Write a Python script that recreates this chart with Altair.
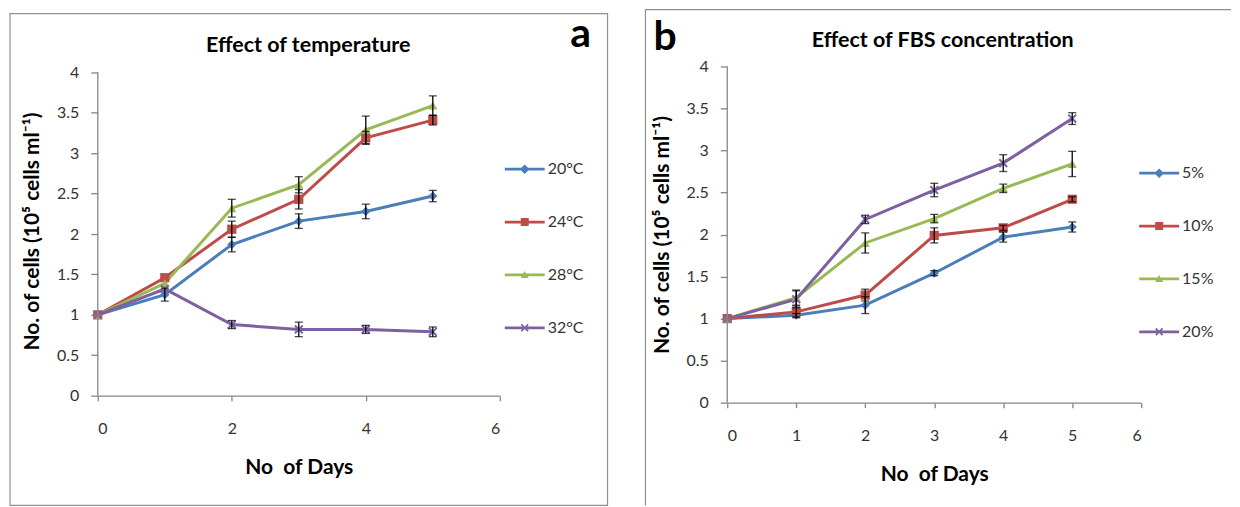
import altair as alt
import pandas as pd

DAYS = [0, 1, 2, 3, 4, 5]

# Panel a: effect of temperature
A_SERIES = ["20°C", "24°C", "28°C", "32°C"]
A_VALUES = [
    [1.0, 1.25, 1.87, 2.16, 2.28, 2.47],
    [1.0, 1.46, 2.06, 2.43, 3.19, 3.41],
    [1.0, 1.39, 2.32, 2.61, 3.29, 3.59],
    [1.0, 1.32, 0.88, 0.82, 0.82, 0.79],
]
A_ERRORS = [
    [0, 0.08, 0.09, 0.09, 0.09, 0.07],
    [0, 0.0, 0.10, 0.12, 0.08, 0.06],
    [0, 0.0, 0.11, 0.10, 0.17, 0.12],
    [0, 0.0, 0.05, 0.09, 0.05, 0.06],
]

# Panel b: effect of FBS concentration
B_SERIES = ["5%", "10%", "15%", "20%"]
B_VALUES = [
    [1.0, 1.04, 1.16, 1.54, 1.97, 2.09],
    [1.0, 1.08, 1.28, 1.99, 2.08, 2.42],
    [1.0, 1.25, 1.90, 2.19, 2.55, 2.84],
    [1.0, 1.23, 2.18, 2.53, 2.85, 3.38],
]
B_ERRORS = [
    [0, 0.02, 0.10, 0.03, 0.06, 0.06],
    [0, 0.07, 0.07, 0.09, 0.03, 0.03],
    [0, 0.09, 0.12, 0.05, 0.05, 0.15],
    [0, 0.10, 0.05, 0.08, 0.10, 0.07],
]

A_TITLE = "Effect of temperature"
B_TITLE = "Effect of FBS concentration"
X_TITLE = "No\u00a0 of Days"
Y_TITLE = "No. of cells (10\u2075 cells ml\u207b\u00b9)"
A_XTICKS = [0, 2, 4, 6]
B_XTICKS = [0, 1, 2, 3, 4, 5, 6]
Y_TICKS = [0, 0.5, 1, 1.5, 2, 2.5, 3, 3.5, 4]

# styles
COLORS = ["#4A7EBB", "#BE4B48", "#98B954", "#7D60A0"]
XPATH = ("M-1,-0.7L-0.7,-1L0,-0.3L0.7,-1L1,-0.7L0.3,0L1,0.7L0.7,1L0,0.3"
         "L-0.7,1L-1,0.7L-0.3,0Z")
MARKERS = ["diamond", "square", "triangle-up", XPATH]
LINE = "M-1,-0.07H1V0.07H-1Z "
LEGEND_PATHS = [
    LINE + "M0,-0.24L0.24,0L0,0.24L-0.24,0Z",
    LINE + "M-0.2,-0.2H0.2V0.2H-0.2Z",
    LINE + "M0,-0.2L0.2,0.15L-0.2,0.15Z",
    LINE + "M-0.2,-0.14L-0.14,-0.2L0,-0.06L0.14,-0.2L0.2,-0.14L0.06,0L0.2,0.14"
           "L0.14,0.2L0,0.06L-0.14,0.2L-0.2,0.14L-0.06,0Z",
]
FONT = "Lato"
AXIS_GRAY = "#868686"


def build(series, values, errors):
    rows = []
    for i, (s, vals, errs) in enumerate(zip(series, values, errors)):
        for d, v, e in zip(DAYS, vals, errs):
            rows.append({"day": d, "value": v, "err": e, "series": s,
                         "col": COLORS[i], "mk": MARKERS[i]})
    df = pd.DataFrame(rows)
    df["lo"] = df["value"] - df["err"]
    df["hi"] = df["value"] + df["err"]
    return df


def panel(df, series, title, letter, w, h, ytop, xticks, frame, title_pos,
          letter_pos, legend_pos):
    one = pd.DataFrame({"t": [title]})
    xs = alt.Scale(domain=[0, 6], nice=False)
    ys = alt.Scale(domain=[0, ytop], nice=False)
    xaxis = alt.Axis(values=xticks, title=X_TITLE, tickSize=5, labelPadding=20,
                     titlePadding=20, format="d")
    yaxis = alt.Axis(values=Y_TICKS, title=Y_TITLE, tickSize=7, labelPadding=12,
                     titlePadding=14, format="~g", domain=False)
    x = alt.X("day:Q", scale=xs, axis=xaxis)
    base = alt.Chart(df)

    fx1, fx2, fy1, fy2, full = frame
    if full:
        fr = alt.Chart(one).mark_rect(fill="transparent", stroke="#8f8f8f",
                                      strokeWidth=1.2).encode(
            x=alt.value(fx1), x2=alt.value(fx2), y=alt.value(fy1), y2=alt.value(fy2))
    else:
        fr = (alt.Chart(one).mark_rule(color="#8f8f8f", strokeWidth=1.2).encode(
                x=alt.value(fx1), y=alt.value(fy1), y2=alt.value(fy2))
              + alt.Chart(one).mark_rule(color="#8f8f8f", strokeWidth=1.2).encode(
                x=alt.value(fx1), x2=alt.value(fx2), y=alt.value(fy1)))

    # y axis line running from 0 to 4 only
    yline = alt.Chart(one).mark_rule(color=AXIS_GRAY, strokeWidth=1.3).encode(
        x=alt.datum(0), y=alt.datum(0), y2=alt.datum(4))

    lines = base.mark_line(strokeWidth=3).encode(
        x=x, y=alt.Y("value:Q", scale=ys, axis=yaxis),
        color=alt.Color("col:N", scale=None), detail="series:N")
    pts = base.mark_point(filled=True, size=85, opacity=1).encode(
        x=x, y=alt.Y("value:Q", scale=ys, axis=yaxis),
        color=alt.Color("col:N", scale=None),
        shape=alt.Shape("mk:N", scale=None))
    err = base.transform_filter("datum.err > 0").mark_errorbar(
        ticks=True, size=8, thickness=1.3, color="black").encode(
        x=x, y=alt.Y("lo:Q", scale=ys, axis=yaxis), y2="hi:Q")
    lg = dict(orient="none", legendX=legend_pos[0], legendY=legend_pos[1],
              title=None, symbolSize=1600, symbolStrokeWidth=0, symbolOpacity=1,
              labelFont=FONT, labelFontSize=16, labelColor="#333333",
              labelOffset=3, rowPadding=25, padding=0)
    leg = base.transform_filter("false").mark_point(filled=True, opacity=1).encode(
        color=alt.Color("series:N", scale=alt.Scale(domain=series, range=COLORS),
                        legend=alt.Legend(**lg)),
        shape=alt.Shape("series:N", scale=alt.Scale(domain=series, range=LEGEND_PATHS),
                        legend=alt.Legend(**lg)))
    ttl = alt.Chart(one).mark_text(font=FONT, fontSize=21.5, fontWeight="bold",
                                   color="black").encode(
        x=alt.value(title_pos[0]), y=alt.value(title_pos[1]), text="t:N")
    let = alt.Chart(pd.DataFrame({"t": [letter]})).mark_text(
        font=FONT, fontSize=41, fontWeight="bold", color="black",
        baseline="middle", align=letter_pos[2]).encode(
        x=alt.value(letter_pos[0]), y=alt.value(letter_pos[1]), text="t:N")
    layers = [fr, lines, pts, err, yline, leg, ttl, let]
    return alt.layer(*layers).resolve_scale(shape="independent", color="independent").properties(
        width=w, height=h)


df_a = build(A_SERIES, A_VALUES, A_ERRORS)
df_b = build(B_SERIES, B_VALUES, B_ERRORS)

# panel a: plot rows 65..395 on screen, value 4 sits at row 71
pa = panel(df_a, A_SERIES, A_TITLE, "a", 403, 330, 4.074, A_XTICKS,
           (-88, 511, -53, 440, True), (211, -21), (484, -32, "center"),
           (408, 83))
pb = panel(df_b, B_SERIES, B_TITLE, "b", 415, 337, 4, B_XTICKS,
           (-82, 505, -57, 440, False), (216, -26), (-74, -29, "left"),
           (413, 87))

chart = alt.hconcat(pa, pb, spacing=36).resolve_scale(
    x="independent", y="independent", color="independent", shape="independent"
).configure(
    padding={"left": 1, "top": 0, "right": 0, "bottom": 0}
).configure_view(strokeWidth=0).configure_axis(
    grid=False, domainColor=AXIS_GRAY, tickColor=AXIS_GRAY, domainWidth=1.3,
    tickWidth=1.3, labelFont=FONT, labelFontSize=16, labelColor="#333333",
    titleFont=FONT, titleFontSize=21, titleFontWeight="bold", titleColor="black"
)

chart.save("out.html", embed_options={"renderer": "svg", "actions": False})
